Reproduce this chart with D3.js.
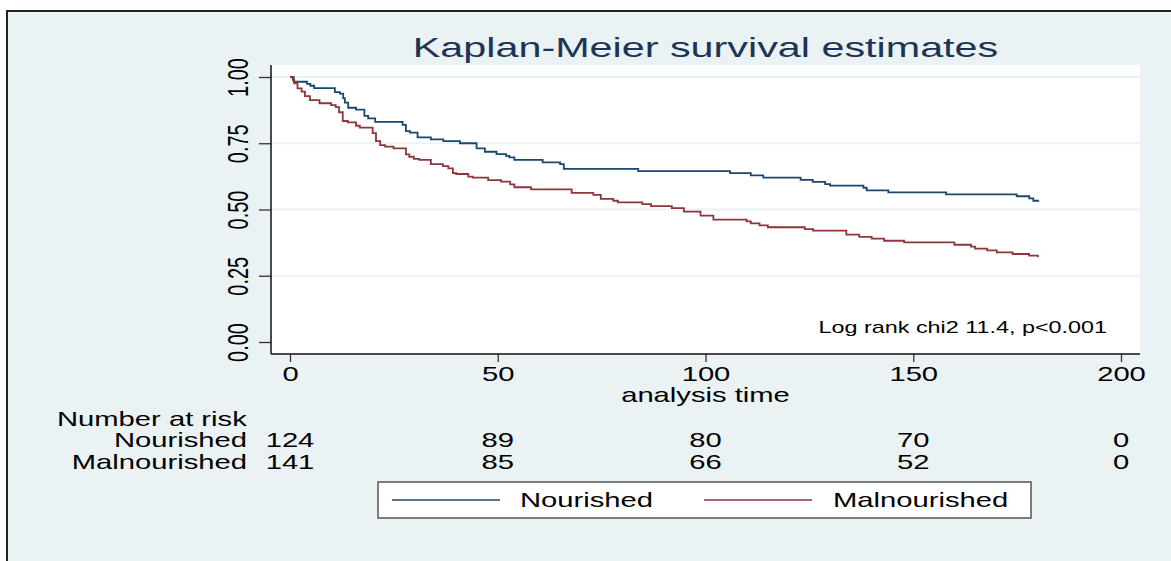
<!DOCTYPE html>
<html>
<head>
<meta charset="utf-8">
<script src="https://cdn.jsdelivr.net/npm/d3@7"></script>
<style>
  html, body { margin: 0; padding: 0; background: #ffffff; }
  svg { display: block; font-family: "Liberation Sans", Arial, Helvetica, sans-serif; }
</style>
</head>
<body>
<svg id="chart" width="1171" height="561"></svg>
<script>
// Kaplan-Meier estimates (time, survival)
const nourishedTime = [0, 0.9, 4.1, 4.9, 5.8, 10.8, 12.0, 12.8, 13.2, 14.0, 15.9, 17.9, 18.8, 20.5,
  27.1, 27.9, 28.9, 30.7, 33.9, 36.9, 40.9, 44.9, 46.9, 49.7, 52.0, 52.8, 54.0, 60.8, 65.0, 65.9,
  83.8, 105.9, 110.9, 113.9, 122.9, 125.8, 128.8, 130.0, 138.0, 138.8, 144.0, 157.9, 174.9, 177.9,
  178.9, 180.3];
const nourishedSurv = [1.000, 0.982, 0.974, 0.967, 0.958, 0.943, 0.937, 0.920, 0.903, 0.884, 0.877,
  0.853, 0.844, 0.831, 0.819, 0.796, 0.790, 0.772, 0.765, 0.758, 0.750, 0.731, 0.718, 0.709, 0.702,
  0.697, 0.687, 0.678, 0.671, 0.653, 0.645, 0.637, 0.629, 0.620, 0.612, 0.604, 0.596, 0.590, 0.582,
  0.572, 0.565, 0.557, 0.550, 0.542, 0.533, 0.533];

const malnourishedTime = [0, 0.65, 1.0, 1.8, 2.8, 3.6, 4.8, 7.1, 9.9, 11.0, 11.8, 12.7, 13.9, 15.9,
  16.8, 19.9, 20.7, 21.7, 22.9, 24.9, 27.9, 28.7, 29.8, 31.1, 33.9, 36.8, 38.1, 39.2, 40.0, 42.9,
  44.0, 47.7, 50.8, 53.0, 54.0, 58.0, 67.8, 73.0, 74.8, 77.8, 78.9, 84.8, 86.9, 91.9, 94.8, 98.8,
  101.9, 109.9, 110.9, 113.0, 115.0, 123.9, 125.9, 133.9, 137.0, 140.0, 143.0, 147.8, 159.9, 163.9,
  164.9, 167.8, 170.1, 173.9, 177.9, 180.0];
const malnourishedSurv = [1.000, 0.989, 0.976, 0.957, 0.945, 0.928, 0.913, 0.901, 0.894, 0.886,
  0.867, 0.834, 0.829, 0.816, 0.809, 0.788, 0.758, 0.743, 0.737, 0.731, 0.708, 0.699, 0.691, 0.687,
  0.671, 0.664, 0.655, 0.637, 0.634, 0.624, 0.620, 0.611, 0.605, 0.595, 0.584, 0.576, 0.563, 0.555,
  0.540, 0.533, 0.527, 0.520, 0.513, 0.505, 0.492, 0.477, 0.462, 0.455, 0.448, 0.440, 0.433, 0.426,
  0.420, 0.405, 0.397, 0.390, 0.382, 0.376, 0.367, 0.360, 0.352, 0.346, 0.338, 0.332, 0.326, 0.320];

const groups = ['Nourished', 'Malnourished'];
const xTicks = [0, 50, 100, 150, 200];
const yTicks = [0, 0.25, 0.5, 0.75, 1];
const gridTicks = [0.25, 0.5, 0.75, 1];
const riskTimes = [0, 50, 100, 150, 200];
const riskNourished = [124, 89, 80, 70, 0];
const riskMalnourished = [141, 85, 66, 52, 0];

const colors = {Nourished: '#1a476f', Malnourished: '#90353b'};
const BG = '#eaf2f3';
// the original export is stretched sideways, so text is too
const SX = 1.46;

const svg = d3.select('#chart');
const plot = {left: 271, right: 1140, top: 65, bottom: 354};

const x = d3.scaleLinear().domain([0, 200]).range([290, 1121]);
const y = d3.scaleLinear().domain([0, 1]).range([342, 77]);

// stretched text helper
function label(parent, px, py, str, size, anchor, fill) {
  return parent.append('text')
    .attr('transform', `translate(${px},${py}) scale(${SX},1)`)
    .attr('text-anchor', anchor || 'start')
    .attr('font-size', size)
    .attr('fill', fill || '#000')
    .text(str);
}

// graph region
svg.append('rect')
  .attr('x', 7).attr('y', 11).attr('width', 1180).attr('height', 570)
  .attr('fill', BG).attr('stroke', '#222').attr('stroke-width', 2);

// plot region
svg.append('rect')
  .attr('x', plot.left).attr('y', plot.top)
  .attr('width', plot.right - plot.left).attr('height', plot.bottom - plot.top)
  .attr('fill', '#fff');

svg.append('g')
  .selectAll('line')
  .data(gridTicks)
  .join('line')
  .attr('x1', plot.left).attr('x2', plot.right)
  .attr('y1', d => y(d)).attr('y2', d => y(d))
  .attr('stroke', BG).attr('stroke-width', 2);

label(svg, (plot.left + plot.right) / 2, 57, 'Kaplan-Meier survival estimates', 28.3, 'middle', '#1c3556');

// axes
const xAxis = svg.append('g')
  .attr('transform', `translate(0,${plot.bottom})`)
  .call(d3.axisBottom(x).tickValues(xTicks).tickSize(8).tickSizeOuter(0));
xAxis.select('.domain').remove();
xAxis.selectAll('.tick line').attr('stroke', '#333').attr('stroke-width', 1.3);
xAxis.selectAll('.tick text')
  .attr('y', null).attr('dy', null)
  .attr('transform', `translate(0,26.5) scale(${SX},1)`)
  .attr('font-size', 20).attr('font-family', null).attr('fill', '#000');

const yAxis = svg.append('g')
  .attr('transform', `translate(${plot.left},0)`)
  .call(d3.axisLeft(y).tickValues(yTicks).tickSize(12).tickSizeOuter(0).tickFormat(d3.format('.2f')));
yAxis.select('.domain').remove();
yAxis.selectAll('.tick line').attr('stroke', '#333').attr('stroke-width', 1.3);
yAxis.selectAll('.tick text')
  .attr('x', null).attr('dy', null)
  .attr('text-anchor', 'middle')
  .attr('transform', `translate(-23,0) scale(${SX},1) rotate(-90)`)
  .attr('font-size', 20).attr('font-family', null).attr('fill', '#000');

svg.append('line')
  .attr('x1', plot.left).attr('x2', plot.left)
  .attr('y1', plot.top).attr('y2', plot.bottom)
  .attr('stroke', '#111').attr('stroke-width', 1.5);
svg.append('line')
  .attr('x1', plot.left).attr('x2', plot.right)
  .attr('y1', plot.bottom).attr('y2', plot.bottom)
  .attr('stroke', '#111').attr('stroke-width', 1.5);

label(svg, (plot.left + plot.right) / 2, 402, 'analysis time', 20, 'middle');

// survival curves
const step = d3.line()
  .x(d => x(d[0]))
  .y(d => y(d[1]))
  .curve(d3.curveStepAfter);

const series = [
  {name: 'Nourished', pts: d3.zip(nourishedTime, nourishedSurv)},
  {name: 'Malnourished', pts: d3.zip(malnourishedTime, malnourishedSurv)},
];

svg.append('g')
  .selectAll('path')
  .data(series)
  .join('path')
  .attr('d', d => step(d.pts))
  .attr('fill', 'none')
  .attr('stroke', d => colors[d.name])
  .attr('stroke-width', 1.8);

label(svg, 1107, 333, 'Log rank chi2 11.4, p<0.001', 16, 'end');

// number at risk table
label(svg, 57, 426, 'Number at risk', 20, 'start');
const riskRows = [
  {name: 'Nourished', counts: riskNourished, base: 447},
  {name: 'Malnourished', counts: riskMalnourished, base: 468.5},
];
riskRows.forEach(row => {
  label(svg, 247, row.base, row.name, 20, 'end');
  row.counts.forEach((c, i) => label(svg, x(riskTimes[i]), row.base, c, 20, 'middle'));
});

// legend
const legend = svg.append('g');
legend.append('rect')
  .attr('x', 378).attr('y', 482).attr('width', 653).attr('height', 36)
  .attr('fill', '#fff').attr('stroke', '#555').attr('stroke-width', 1.5);
const legendX = [{line: 392, text: 520}, {line: 704, text: 833}];
groups.forEach((g, i) => {
  legend.append('line')
    .attr('x1', legendX[i].line).attr('x2', legendX[i].line + 108)
    .attr('y1', 500).attr('y2', 500)
    .attr('stroke', colors[g]).attr('stroke-width', 1.5);
  label(legend, legendX[i].text, 507, g, 20, 'start');
});
</script>
</body>
</html>
